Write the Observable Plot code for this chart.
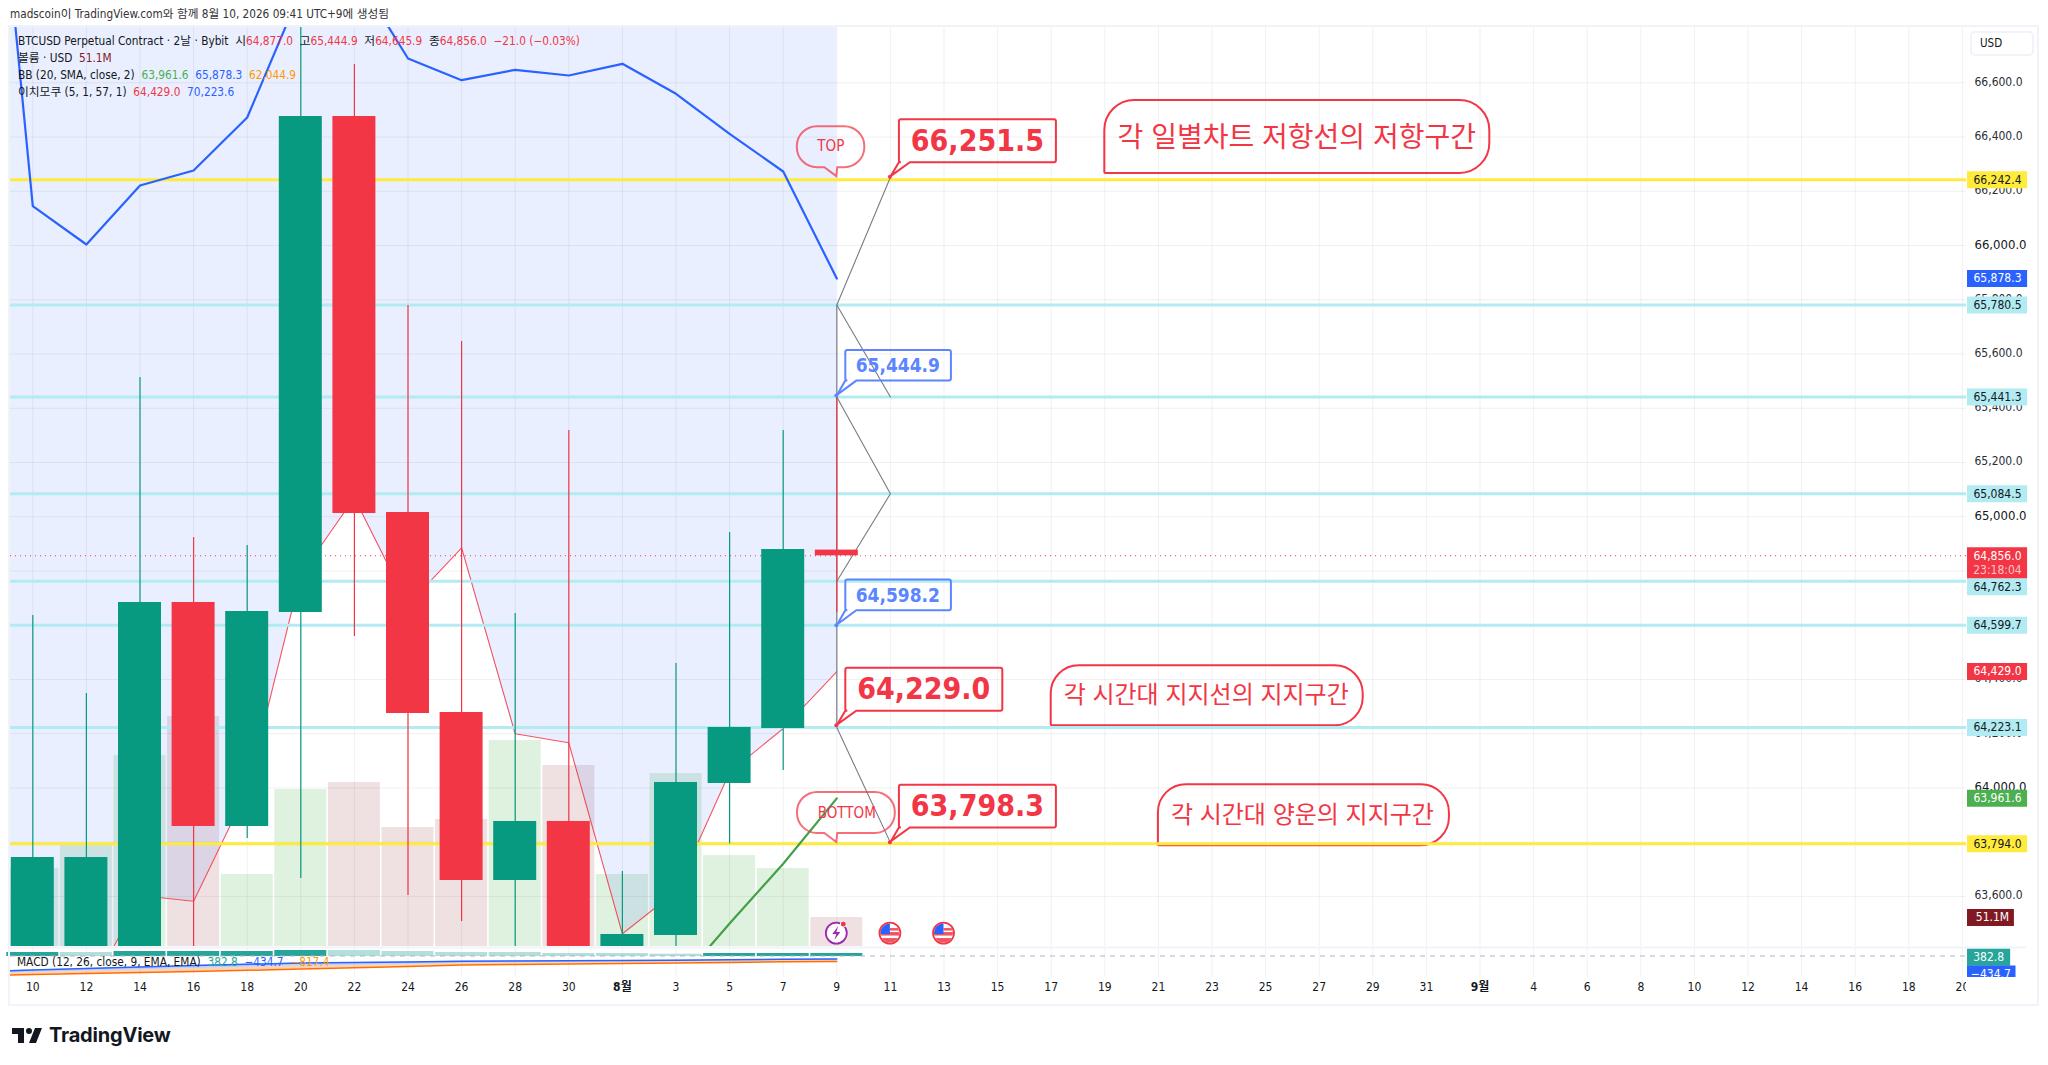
<!DOCTYPE html>
<html lang="ko">
<head>
<meta charset="utf-8">
<title>BTCUSD</title>
<script src="https://cdn.jsdelivr.net/npm/d3@7"></script>
<script src="https://cdn.jsdelivr.net/npm/@observablehq/plot@0.6"></script>
<style>
  html,body{margin:0;padding:0;background:#fff;width:2048px;height:1065px;overflow:hidden;}
  body{position:relative;font-family:"DejaVu Sans Condensed","Noto Sans CJK KR",sans-serif;color:#131722;}
  #title{height:27px;box-sizing:border-box;padding-left:10px;font-size:11.7px;line-height:29px;color:#333;white-space:nowrap;}
  #main svg,#lower svg{display:block;}
  #frame{position:absolute;left:8px;top:25px;width:2027px;height:977px;border:2px solid #f0f3fa;pointer-events:none;}
  #legend{position:absolute;left:18px;top:33px;font-size:11.75px;line-height:17px;white-space:pre;}
  #macdLegend{position:absolute;left:17px;top:955px;font-size:11.75px;line-height:14px;white-space:pre;}
  #usd{position:absolute;left:1970px;top:31px;width:64px;height:25px;box-sizing:border-box;border:2px solid #f0f3fa;border-radius:5px;font-size:11.5px;line-height:21px;padding-left:8px;}
  #logo{position:absolute;left:12px;top:1023px;display:flex;align-items:center;gap:7px;font:700 20px "Inter",sans-serif;letter-spacing:-.2px;color:#131722;}
  .r{color:#f23645}.g{color:#4caf50}.b{color:#2962ff}.o{color:#ff9800}.v{color:#801922}.t{color:#26a69a}
</style>
</head>
<body>
<div id="title">madscoin이 TradingView.com와 함께 8월 10, 2026 09:41 UTC+9에 생성됨</div>
<div id="main"></div>
<div id="lower"></div>
<div id="frame"></div>
<div id="legend"><div>BTCUSD Perpetual Contract · 2날 · Bybit  시<span class="r">64,877.0</span>  고<span class="r">65,444.9</span>  저<span class="r">64,645.9</span>  종<span class="r">64,856.0</span>  <span class="r">−21.0 (−0.03%)</span></div><div>볼륨 · USD  <span class="v">51.1M</span></div><div>BB (20, SMA, close, 2)  <span class="g">63,961.6</span>  <span class="b">65,878.3</span>  <span class="o">62,044.9</span></div><div>이치모쿠 (5, 1, 57, 1)  <span class="r">64,429.0</span>  <span class="b">70,223.6</span></div></div>
<div id="macdLegend">MACD (12, 26, close, 9, EMA, EMA)  <span class="t">382.8</span>  <span class="b">−434.7</span>  <span class="o">−817.4</span></div>
<div id="usd">USD</div>
<div id="logo"><svg width="30" height="15" viewBox="2 6 30 15"><path fill="#131722" d="M14 6H2v6h6v9h6V6Zm12 15h-7l6-15h7l-6 15Zm-7-9a3 3 0 1 0 0-6 3 3 0 0 0 0 6Z"/></svg><span>TradingView</span></div>

<script>
// ---------- candles ----------
const candleIndex = [0,1,2,3,4,5,6,7,8,9,10,11,12,13,14,15];
const opens  = [63300,63300,63300,64683.8,63857.8,64646.9,66475.8,65015.6,64278.2,63658.7,63876.3,63300,63455.9,64016.4,64219.2,64877.0];
const closes = [63743.5,63743.5,64683.8,63857.8,64650.6,66475.8,65011.9,64274.5,63658.7,63876.3,63300,63459.6,64020.1,64222.9,64879.2,64856.0];
const highs  = [64635.8,64348.2,65513.4,64923.4,64894.0,67200,66667.5,65778.9,65646.2,64643.2,65318.0,63691.9,64458.8,64941.9,65318.0,65444.9];
const lows   = [63300,63300,63300,63300,63813.6,63666.1,64558.4,63603.4,63507.5,63300,63300,63300,63300,63793.0,64064.3,64645.9];
const volumes = [137.4,179.7,336.5,405.3,126.9,276.6,289.0,209.7,223.8,363.0,318.9,126.9,304.8,160.3,137.4,51.1];
// ---------- indicators ----------
const bbUpperIndex = [-1,0,1,2,3,4,5,6,7,8,9,10,11,12,13,14,15];
const bbUpper = [68187,66145.1,66003.8,66221.4,66276.7,66472.1,66938.6,67009.4,66689.7,66609.7,66648,66627,66670.1,66559.5,66412,66273,65878.3];
const bbBasisIndex = [12,13,14,15];
const bbBasis = [63271.5,63500.2,63720.4,63961.6];
const spanIndex = [-1,0,1,2,3,4,5,6,7,8,9,10,11,12,13,14,15];
const spanA = [63000,63100,63216,63603.4,63582.4,63990.6,64787,65069.8,64675.3,64885.5,64199.6,64166.4,63462.2,63618.2,64058,64219.2,64429];
const spanB = 70223.6;
// ---------- drawn levels ----------
const yellowLevels = [66242.4,63794.0];
const cyanLevels = [65780.5,65441.3,65084.5,64762.3,64599.7,64223.1];
const lastPrice = 64856.0;
const zigzags = [
  [[16,66251.5],[15,65780.5],[16,65441.3]],
  [[15,65441.3],[16,65084.5],[15,64762.3]],
  [[15,64223.1],[16,63798.3]]
];
const bigCallouts = [[16,66251.5],[15,64229.0],[16,63798.3]];
const smallCallouts = [[15,65444.9],[15,64598.2]];
const notes = [
  ["각 일별차트 저항선의 저항구간",20,66266],
  ["각 시간대 지지선의 지지구간",19,64229],
  ["각 시간대 양운의 지지구간",21,63787]
];
const commentTop = ["TOP",15,66254];
const commentBottom = ["BOTTOM",15,63799];
const priceTicks = [63600,63800,64200,64400,64600,64800,65200,65400,65600,65800,66200,66400,66600];
const priceTicksMajor = [64000,65000,66000];
const eventIcons = [15,16,17];
const eventIconPrice = 63463;
// ---------- MACD pane ----------
const hist = [525,525,675,675,675,825,825,675,525,525,375,375,270,375,375,382.8];
const histRising = [1,0,1,1,1,1,0,0,0,0,0,0,0,1,1,1];
const macdLine = [-2100,-1875,-1650,-1425,-1245,-1050,-975,-900,-795,-750,-705,-675,-630,-555,-495,-434.7];
const signalLine = [-2775,-2625,-2475,-2325,-2145,-1950,-1770,-1575,-1365,-1275,-1200,-1125,-1050,-975,-870,-817.4];
const xLabels = ["10","12","14","16","18","20","22","24","26","28","30","8월","3","5","7","9","11","13","15","17","19","21","23","25","27","29","31","9월","4","6","8","10","12","14","16","18","20"];

// ---------- scales ----------
const FONT = '"DejaVu Sans Condensed","Noto Sans CJK KR",sans-serif';
const xDomain = [-0.416, 37.606];
const paneEnd = 36.076;
const yDomain = [63415.3, 66804];
const volBase = yDomain[0], volK = 2.0926;
const volY = v => volBase + v * volK;
const fmt = d3.format(",.1f");
const tagStart = 36.095, tagEnd = 37.216, tagMid = 36.654;
const RED = "#f23645", GREEN = "#089981", BLUE = "#5b86ff";

function roundedPath(x0,y0,x1,y1,[tl,tr,br,bl],tail){
  let p = `M${x0+tl},${y0}L${x1-tr},${y0}A${tr},${tr} 0 0 1 ${x1},${y0+tr}L${x1},${y1-br}A${br},${br} 0 0 1 ${x1-br},${y1}`;
  if (tail) p += `L${tail[1]},${y1}L${tail[2]},${tail[3]}L${tail[0]},${y1}`;
  p += `L${x0+bl},${y1}A${bl},${bl} 0 0 1 ${x0},${y1-bl}L${x0},${y0+tl}A${tl},${tl} 0 0 1 ${x0+tl},${y0}Z`;
  return p;
}
function svgGroup(){ return d3.create("svg:g"); }

const noteBoxes = (index,{x,y}) => {
  const g = svgGroup();
  const sizes = [[385,73,30],[312,60,28],[291,61,28]];
  notes.forEach(([,i,p],k)=>{
    const [w,h,r] = sizes[k], X=x(i), Y=y(p);
    g.append("path").attr("d",roundedPath(X,Y-h,X+w,Y,[r,r,r,1])).attr("fill","none").attr("stroke",RED).attr("stroke-width",2);
  });
  return g.node();
};
const calloutBoxes = (index,{x,y}) => {
  const g = svgGroup();
  const draw = (list,w,top,bot,color)=>list.forEach(([i,p])=>{
    const X=x(i),Y=y(p);
    g.append("path").attr("d",roundedPath(X+9,Y+top,X+9+w,Y+bot,[2,2,2,2],[X+9,X+20,X+1,Y-1])).attr("fill","none").attr("stroke",color).attr("stroke-width",2);
    g.append("circle").attr("cx",X).attr("cy",Y).attr("r",2).attr("fill",color);
  });
  draw(bigCallouts,157,-57.5,-14.7,RED);
  draw(smallCallouts,105.6,-45.6,-15,BLUE);
  return g.node();
};
const commentBoxes = (index,{x,y}) => {
  const g = svgGroup();
  [[commentTop,-39.5,28],[commentBottom,-39.3,58.5]].forEach(([[,i,p],a,b])=>{
    const X=x(i),Y=y(p);
    g.append("path").attr("d",roundedPath(X+a,Y-50,X+b,Y-9,[20,20,20,20],[X-12,X+1,X,Y]))
      .attr("fill","none").attr("stroke",RED).attr("stroke-opacity",.72).attr("stroke-width",2);
  });
  return g.node();
};
const icons = (index,{x,y}) => {
  const g = svgGroup();
  const Y = y(eventIconPrice);
  eventIcons.forEach((i,k)=>{
    const X = x(i);
    if (k===0){
      g.append("circle").attr("cx",X).attr("cy",Y).attr("r",10.5).attr("fill","#fff").attr("stroke","#9c27b0").attr("stroke-width",1.8);
      g.append("path").attr("d",`M${X+2},${Y-7}L${X-4},${Y+1}L${X},${Y+1}L${X-2},${Y+7}L${X+4},${Y-1}L${X},${Y-1}Z`).attr("fill","#9c27b0");
      g.append("circle").attr("cx",X+7).attr("cy",Y-9).attr("r",3).attr("fill",RED).attr("stroke","#fff");
    } else {
      const id = "flag"+k;
      g.append("clipPath").attr("id",id).append("circle").attr("cx",X).attr("cy",Y).attr("r",9.5);
      g.append("circle").attr("cx",X).attr("cy",Y).attr("r",10.5).attr("fill","#fff").attr("stroke",RED).attr("stroke-width",1.8);
      const f = g.append("g").attr("clip-path",`url(#${id})`);
      f.append("rect").attr("x",X-10).attr("y",Y-1).attr("width",20).attr("height",3.5).attr("fill","#f2545f");
      f.append("rect").attr("x",X-10).attr("y",Y+5).attr("width",20).attr("height",6).attr("fill","#f2545f");
      f.append("rect").attr("x",X).attr("y",Y-5).attr("width",11).attr("height",2.5).attr("fill","#f2545f");
      f.append("rect").attr("x",X-11).attr("y",Y-11).attr("width",11).attr("height",12).attr("fill","#2962ff");
    }
  });
  return g.node();
};
const tag = (p,bg,ink,label,dy=0,extra={}) => [
  Plot.ruleY([p],{x1:tagStart,x2:extra.x2??tagEnd,stroke:bg,strokeWidth:extra.h??17,dy:dy+(extra.shift??0)}),
  Plot.text([p],{x:extra.mid??tagMid,y:d=>d,text:()=>label,fill:ink,fontSize:12,fontWeight:"normal",fontFamily:FONT,dy})
];

const candleRows = candleIndex.map(i=>({i,o:opens[i],c:closes[i],h:highs[i],l:lows[i],v:volumes[i],up:closes[i]>=opens[i]}));
const bbRows = bbUpper.map((v,k)=>({i:bbUpperIndex[k],v}));
const basisRows = bbBasis.map((v,k)=>({i:bbBasisIndex[k],v}));
const spanRows = spanA.map((v,k)=>({i:spanIndex[k],v}));
const colorOf = d => d.up ? GREEN : RED;
const gridI = d3.range(0,37);
const allTicks = priceTicks.concat(priceTicksMajor);

const main = Plot.plot({
  width:2048, height:919, marginLeft:10, marginRight:0, marginTop:0, marginBottom:0,
  style:{background:"transparent",fontFamily:FONT,overflow:"visible"},
  x:{domain:xDomain,axis:null}, y:{domain:yDomain,axis:null},
  marks:[
    Plot.rect(candleRows,{x1:d=>d.i-.485,x2:d=>d.i+.485,y1:()=>volBase,y2:d=>volY(d.v),fill:d=>d.up?"#4caf50":"#801922",fillOpacity:d=>d.up?.18:.13,clip:true}),
    Plot.areaY(spanRows,{x:"i",y1:"v",y2:()=>spanB,fill:"#2962ff",fillOpacity:.1,clip:true}),
    Plot.ruleY(allTicks,{x1:xDomain[0],x2:paneEnd,stroke:"#000",strokeOpacity:.06}),
    Plot.ruleX(gridI,{stroke:"#000",strokeOpacity:.06}),
    Plot.line(spanRows,{x:"i",y:"v",stroke:RED,strokeWidth:1.1,strokeOpacity:.85,clip:true}),
    noteBoxes,
    Plot.ruleY(yellowLevels,{x1:xDomain[0],x2:paneEnd,stroke:"#ffeb3b",strokeWidth:3}),
    Plot.ruleY(cyanLevels,{x1:xDomain[0],x2:paneEnd,stroke:"#b2ebf2",strokeWidth:3}),
    Plot.ruleY([lastPrice],{x1:xDomain[0],x2:paneEnd,stroke:RED,strokeWidth:1,strokeDasharray:"1 4"}),
    Plot.ruleX([15],{y1:65780.5,y2:64223.1,stroke:"#787b86",strokeWidth:1.2}),
    ...zigzags.map(z=>Plot.line(z,{x:d=>d[0],y:d=>d[1],stroke:"#787b86",strokeWidth:1.1})),
    Plot.line(bbRows,{x:"i",y:"v",stroke:"#2962ff",strokeWidth:2.2,clip:true}),
    Plot.line(basisRows,{x:"i",y:"v",stroke:"#43a047",strokeWidth:2.2,clip:true}),
    Plot.ruleX(candleRows,{x:"i",y1:"l",y2:"h",stroke:colorOf,strokeWidth:1.2,clip:true}),
    Plot.rect(candleRows,{x1:d=>d.i-.401,x2:d=>d.i+.401,y1:"o",y2:"c",fill:colorOf,clip:true}),
    calloutBoxes, commentBoxes, icons,
    Plot.text(bigCallouts,{x:d=>d[0],y:d=>d[1],text:d=>fmt(d[1]),fill:RED,fontSize:30,fontWeight:"bold",fontFamily:FONT,dx:87,dy:-36}),
    Plot.text(smallCallouts,{x:d=>d[0],y:d=>d[1],text:d=>fmt(d[1]),fill:BLUE,fontSize:19,fontWeight:"bold",fontFamily:FONT,dx:61,dy:-30}),
    Plot.text([notes[0]],{x:d=>d[1],y:d=>d[2],text:d=>d[0],fill:RED,fontSize:28,fontFamily:'"Noto Sans CJK KR"',dx:192,dy:-35}),
    Plot.text([notes[1]],{x:d=>d[1],y:d=>d[2],text:d=>d[0],fill:RED,fontSize:24,fontFamily:'"Noto Sans CJK KR"',dx:155,dy:-31}),
    Plot.text([notes[2]],{x:d=>d[1],y:d=>d[2],text:d=>d[0],fill:RED,fontSize:24,fontFamily:'"Noto Sans CJK KR"',dx:144,dy:-30}),
    Plot.text([commentTop],{x:d=>d[1],y:d=>d[2],text:d=>d[0],fill:RED,fontSize:15,fontFamily:FONT,dx:-6,dy:-30}),
    Plot.text([commentBottom],{x:d=>d[1],y:d=>d[2],text:d=>d[0],fill:RED,fontSize:15,fontFamily:FONT,dx:10,dy:-29}),
    Plot.axisY(priceTicks,{anchor:"right",tickSize:0,tickPadding:0,textAnchor:"middle",dx:-50,dy:-1,label:null,tickFormat:fmt,fontSize:12,fill:"#2a2e39",fontFamily:FONT}),
    Plot.axisY(priceTicksMajor,{anchor:"right",tickSize:0,tickPadding:0,textAnchor:"middle",dx:-48,dy:-1,label:null,tickFormat:fmt,fontSize:13,fill:"#131722",fontFamily:FONT}),
    ...tag(66242.4,"#ffeb3b","#131722",fmt(66242.4)),
    ...tag(65878.3,"#2962ff","#fff",fmt(65878.3)),
    ...tag(65780.5,"#b2ebf2","#131722",fmt(65780.5)),
    ...tag(65441.3,"#b2ebf2","#131722",fmt(65441.3)),
    ...tag(65084.5,"#b2ebf2","#131722",fmt(65084.5)),
    ...tag(64762.3,"#b2ebf2","#131722",fmt(64762.3),5.5),
    ...tag(64599.7,"#b2ebf2","#131722",fmt(64599.7)),
    ...tag(lastPrice,RED,"#fff",fmt(lastPrice),0,{h:31,shift:7}),
    Plot.text([lastPrice],{x:tagMid,y:d=>d,text:()=>"23:18:04",fill:"#ffc4c9",fontSize:12,fontFamily:FONT,dy:14.5}),
    ...tag(64429.0,RED,"#fff",fmt(64429.0)),
    ...tag(64223.1,"#b2ebf2","#131722",fmt(64223.1)),
    ...tag(63961.6,"#4caf50","#fff",fmt(63961.6)),
    ...tag(63794.0,"#ffeb3b","#131722",fmt(63794.0)),
    ...tag(volY(51.1),"#801922","#fff","51.1M",0,{x2:36.97,mid:36.56})
  ]
});
document.getElementById("main").append(main);

// ---------- MACD + date axis ----------
const K = 150, zeroPx = 9.5;
const pxToV = px => (zeroPx - px) * K;   // px below the top of the lower svg
const lowerDomain = [pxToV(57), pxToV(0)];
const macdRows = macdLine.map((m,i)=>({i,m,s:signalLine[i],mid:(m+signalLine[i])/2}));
const macdBand = [{i:-1,m:-2325,s:-2925,mid:-2625},...macdRows];
const histRows = hist.map((v,i)=>({i,v,up:histRising[i]}));
const dateRows = xLabels.map((t,i)=>({t,i}));
const lower = Plot.plot({
  width:2048, height:57, marginLeft:10, marginRight:0, marginTop:0, marginBottom:0,
  style:{background:"transparent",fontFamily:FONT,overflow:"visible"},
  x:{domain:xDomain,axis:null}, y:{domain:lowerDomain,axis:null},
  marks:[
    Plot.ruleY([pxToV(1)],{x1:xDomain[0],x2:37.2,stroke:"#f0f3fa",strokeWidth:2}),
    Plot.ruleX(gridI,{y1:pxToV(2),y2:pxToV(30.7),stroke:"#000",strokeOpacity:.06}),
    Plot.rect(histRows,{x1:d=>d.i-.485,x2:d=>d.i+.485,y1:()=>-75,y2:"v",fill:d=>d.up?"#26a69a":"#b2dfdb"}),
    Plot.ruleY([0],{x1:xDomain[0],x2:paneEnd,stroke:"#b2b5be",strokeDasharray:"5 5"}),
    Plot.areaY(macdBand,{x:"i",y1:"m",y2:"mid",fill:"#2962ff",fillOpacity:.3,clip:true}),
    Plot.areaY(macdBand,{x:"i",y1:"mid",y2:"s",fill:"#ff6d00",fillOpacity:.3,clip:true}),
    Plot.line(macdBand,{x:"i",y:"m",stroke:"#2962ff",strokeWidth:1.5,clip:true}),
    Plot.line(macdBand,{x:"i",y:"s",stroke:"#ff6d00",strokeWidth:1.5,clip:true}),
    ...[[382.8,"#26a69a",3.8,"382.8",36.9,36.49],[-434.7,"#2962ff",15,"−434.7",37.0,36.53]].flatMap(([v,bg,dy,t,x2,mid])=>tag(v,bg,"#fff",t,dy,{x2,mid})),
    Plot.text(dateRows.filter(d=>!/월/.test(d.t)),{x:"i",text:"t",frameAnchor:"bottom",dy:-12.3,fontSize:12,fill:"#131722",fontFamily:FONT}),
    Plot.text(dateRows.filter(d=>/월/.test(d.t)),{x:"i",text:"t",frameAnchor:"bottom",dy:-12.3,fontSize:12,fontWeight:"bold",fill:"#131722",fontFamily:FONT}),
    Plot.rect([0],{x1:paneEnd,x2:xDomain[1],y1:pxToV(31),y2:pxToV(57),fill:"#fff"})
  ]
});
document.getElementById("lower").append(lower);
</script>
</body>
</html>
